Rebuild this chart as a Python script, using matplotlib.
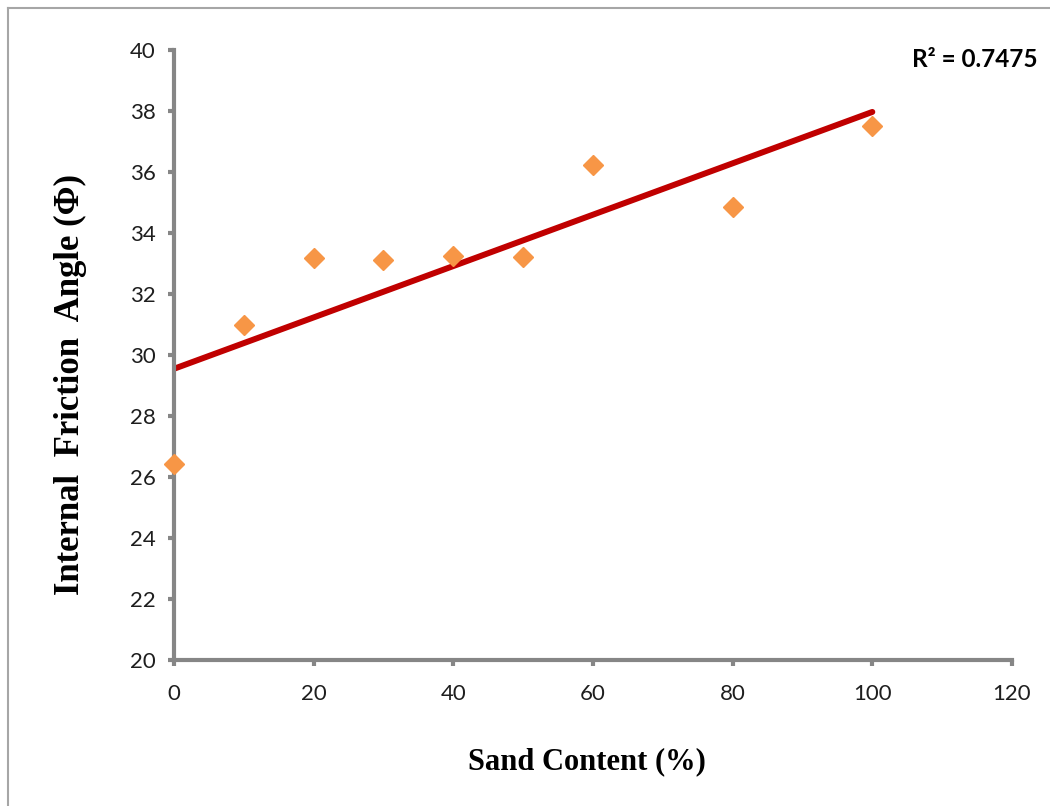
import numpy as np
import matplotlib.pyplot as plt
from matplotlib.lines import Line2D

# sand content (%) and measured internal friction angle (deg)
sand = [0, 10, 20, 30, 40, 50, 60, 80, 100]
phi = [26.43, 30.98, 33.19, 33.13, 33.24, 33.2, 36.23, 34.85, 37.52]
r2_label = 'R² = 0.7475'

x_ticks = [0, 20, 40, 60, 80, 100, 120]
y_ticks = [20, 22, 24, 26, 28, 30, 32, 34, 36, 38, 40]

tick_font = ['Lato', 'DejaVu Sans']
axis_gray = '#868686'

fig = plt.figure(figsize=(10.5, 8.06), dpi=100)
ax = fig.add_axes([0.1657, 0.1811, 0.7981, 0.7569])

# linear trendline
slope, icpt = np.polyfit(sand, phi, 1)
xl = np.array([0, 100])
ax.plot(xl, slope * xl + icpt, color='#C00000', lw=4.3, solid_capstyle='round', zorder=2)

ax.plot(sand, phi, ls='none', marker='D', ms=10, color='#F79646', mec='#F79646', zorder=3,
        clip_on=False)

ax.set_xlim(0, 120)
ax.set_ylim(20, 40)
ax.set_xticks(x_ticks)
ax.set_yticks(y_ticks)

for s in ['top', 'right']:
    ax.spines[s].set_visible(False)
for s in ['left', 'bottom']:
    ax.spines[s].set_color(axis_gray)
    ax.spines[s].set_linewidth(3)
ax.tick_params(axis='both', colors=axis_gray, width=3, length=4, direction='out')
ax.tick_params(axis='x', pad=13)
ax.tick_params(axis='y', pad=9)
for lab in ax.get_xticklabels() + ax.get_yticklabels():
    lab.set_family(tick_font)
    lab.set_fontsize(16)
    lab.set_color('#1e1e1e')

ax.set_xlabel('Sand Content (%)', family='Liberation Serif', fontweight='bold', fontsize=22)
ax.xaxis.set_label_coords(0.493, -0.167)
ax.xaxis.label.set_va('center')
ax.set_ylabel('Internal  Friction  Angle (Φ)', family='Liberation Serif', fontweight='bold',
              fontsize=25)
ax.yaxis.set_label_coords(-0.124, 0.452)
ax.yaxis.label.set_va('center')

fig.text(0.9286, 0.9256, r2_label, family=tick_font, fontweight='bold', fontsize=17.5,
         ha='center', va='center')

# thin outer frame on the left and top edges
fig.add_artist(Line2D([0.0078, 0.0078], [0, 0.99], transform=fig.transFigure,
                      color='#A6A6A6', lw=1.5))
fig.add_artist(Line2D([0.0078, 1], [0.99, 0.99], transform=fig.transFigure,
                      color='#A6A6A6', lw=1.5))

fig.savefig('out.png', dpi=100, facecolor='white')
